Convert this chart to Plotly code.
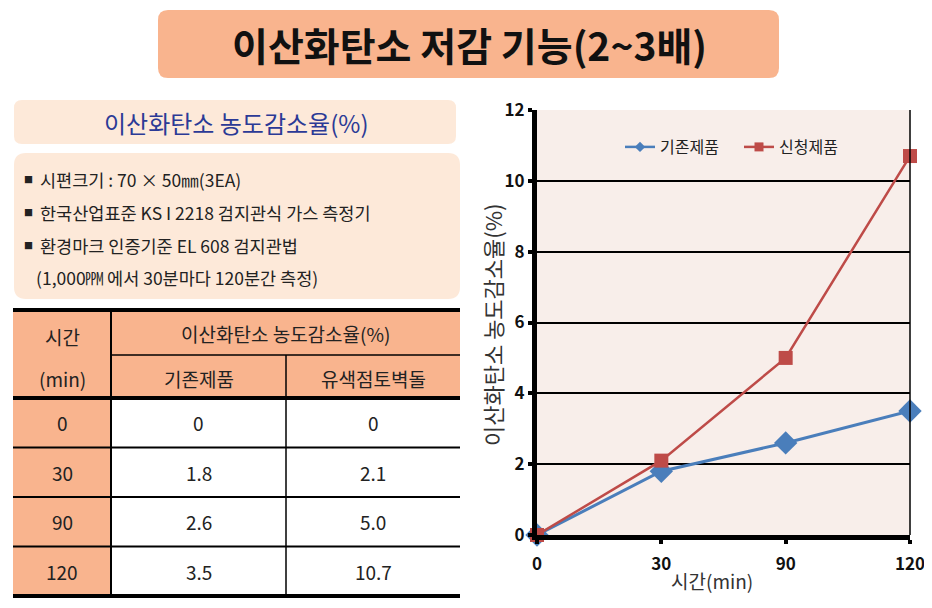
import plotly.graph_objects as go

# ---------------- data ----------------
time_labels = ["0", "30", "90", "120"]
existing_vals = [0, 1.8, 2.6, 3.5]
new_vals = [0, 2.1, 5.0, 10.7]
series_names = ["기존제품", "신청제품"]
table_cols = ["기존제품", "유색점토벽돌"]
y_ticks = [0, 2, 4, 6, 8, 10, 12]

title_text = "이산화탄소 저감 기능(2~3배)"
subtitle_text = "이산화탄소 농도감소율(%)"
bullet_lines = [
    "시편크기 : 70 × 50㎜(3EA)",
    "한국산업표준 KS I 2218 검지관식 가스 측정기",
    "환경마크 인증기준 EL 608 검지관법",
    "(1,000㏙ 에서 30분마다 120분간 측정)",
]
bullet_flags = [True, True, True, False]

# page offset (browser body margin)
OFF = 8
W, H = 932 - OFF, 608 - OFF
FONT = "Noto Sans CJK KR"


def px(x):
    return (x - OFF) / W


def py(y):
    return 1 - (y - OFF) / H


def rrect(x0, y0, x1, y1, r, color):
    rx, ry = r / W, r / H
    X0, X1, Y0, Y1 = px(x0), px(x1), py(y0), py(y1)
    path = (f"M {X0+rx},{Y0} L {X1-rx},{Y0} Q {X1},{Y0} {X1},{Y0-ry} "
            f"L {X1},{Y1+ry} Q {X1},{Y1} {X1-rx},{Y1} L {X0+rx},{Y1} "
            f"Q {X0},{Y1} {X0},{Y1+ry} L {X0},{Y0-ry} Q {X0},{Y0} {X0+rx},{Y0} Z")
    return dict(type="path", xref="paper", yref="paper", path=path,
                fillcolor=color, line=dict(width=0), layer="below")


def rect(x0, y0, x1, y1, color):
    return dict(type="rect", xref="paper", yref="paper", x0=px(x0), x1=px(x1),
                y0=py(y1), y1=py(y0), fillcolor=color, line=dict(width=0), layer="below")


def hline(x0, x1, y, w):
    return dict(type="line", xref="paper", yref="paper", x0=px(x0), x1=px(x1),
                y0=py(y), y1=py(y), line=dict(color="black", width=w))


def vline(x, y0, y1, w):
    return dict(type="line", xref="paper", yref="paper", x0=px(x), x1=px(x),
                y0=py(y0), y1=py(y1), line=dict(color="black", width=w))


def text(x, y, s, size, color="#222", xanchor="center", bold=False):
    return dict(xref="paper", yref="paper", x=px(x), y=py(y), text=(f"<b>{s}</b>" if bold else s),
                showarrow=False, xanchor=xanchor, yanchor="middle",
                font=dict(family=FONT, size=size, color=color))


fig = go.Figure()
colors = ["#4A7EBB", "#BE4B48"]
symbols = ["diamond", "square"]
for vals, name, col, sym, msize, lw in [
        (existing_vals, series_names[0], colors[0], symbols[0], 18, 3),
        (new_vals, series_names[1], colors[1], symbols[1], 14, 2.5)]:
    fig.add_trace(go.Scatter(
        x=time_labels, y=vals, name=name, mode="lines+markers",
        line=dict(color=col, width=lw),
        marker=dict(symbol=sym, size=msize, color=col),
        cliponaxis=False, showlegend=False))
# legend entries with small markers
for name, col, sym in zip(series_names, colors, symbols):
    fig.add_trace(go.Scatter(
        x=[None], y=[None], name=name, mode="lines+markers",
        line=dict(color=col, width=2.5),
        marker=dict(symbol=sym, size=8 if sym == "diamond" else 9, color=col),
        showlegend=True))

shapes = []
annotations = []

# title
shapes.append(rrect(158, 10, 779, 78, 10, "#F9B48E"))
annotations.append(text(469, 44, title_text, 39, "#111", bold=True))

# subtitle box
shapes.append(rrect(14, 100, 456, 144, 8, "#FDE9D9"))
annotations.append(text(236, 123, subtitle_text, 24, "#2B3A96"))

# bullet box
shapes.append(rrect(14, 153, 460, 299, 12, "#FDE9D9"))
for i, (line, flag) in enumerate(zip(bullet_lines, bullet_flags)):
    yc = 180 + i * 32.5
    if flag:
        annotations.append(text(28, yc, "■", 9, "#222"))
        annotations.append(text(38, yc, line, 17.5, "#222", xanchor="left"))
    else:
        annotations.append(text(34, yc, line, 17.5, "#222", xanchor="left"))

# table
tx0, tx1 = 13, 460
c1, c2 = 111, 286
ytop, ymid, yhead, ybot = 310, 355, 398, 596
row_h = (ybot - yhead) / len(time_labels)
salmon = "#F9B48E"
shapes.append(rect(tx0, ytop, tx1, yhead, salmon))
shapes.append(rect(tx0, yhead, c1, ybot, salmon))
shapes.append(hline(c1, tx1, ymid, 1.5))
for i in range(1, len(time_labels)):
    shapes.append(hline(tx0, tx1, yhead + i * row_h, 2))
shapes.append(vline(c1, ytop, ybot, 2))
shapes.append(vline(c2, ymid, ybot, 1.5))
shapes.append(hline(tx0, tx1, ytop, 4))
shapes.append(hline(tx0, tx1, yhead, 4))
shapes.append(hline(tx0, tx1, ybot, 4))

TS = 19
annotations.append(text(62, 336, "시간", TS))
annotations.append(text(62, 378, "(min)", TS))
annotations.append(text((c1 + tx1) / 2, 333, subtitle_text, TS))
annotations.append(text((c1 + c2) / 2, 378, table_cols[0], TS))
annotations.append(text((c2 + tx1) / 2, 378, table_cols[1], TS))


def fmt(v):
    return "0" if v == 0 else f"{v:.1f}"


for i, t in enumerate(time_labels):
    yc = yhead + (i + 0.5) * row_h
    annotations.append(text(62, yc, t, TS))
    annotations.append(text((c1 + c2) / 2, yc, fmt(existing_vals[i]), TS))
    annotations.append(text((c2 + tx1) / 2, yc, fmt(new_vals[i]), TS))

# chart right border
shapes.append(dict(type="line", xref="paper", yref="paper", x0=px(910), x1=px(910),
                   y0=py(535), y1=py(110), line=dict(color="black", width=1.5)))

# axis titles
annotations.append(dict(xref="paper", yref="paper", x=px(492), y=py(325),
                        text="이산화탄소 농도감소율(%)", textangle=-90, showarrow=False,
                        font=dict(family=FONT, size=22, color="#333")))
annotations.append(text(712, 580, "시간(min)", 19, "#333"))

fig.update_layout(
    width=W, height=H,
    margin=dict(l=0, r=0, t=0, b=0),
    paper_bgcolor="white",
    plot_bgcolor="#F8EEEA",
    showlegend=True,
    legend=dict(orientation="h", x=px(620), y=py(147), xanchor="left", yanchor="middle",
                bgcolor="rgba(0,0,0,0)", font=dict(family=FONT, size=16, color="#222"),
                itemwidth=30, entrywidth=74, entrywidthmode="pixels"),
    xaxis=dict(domain=[px(537), px(910)], type="category", range=[0, 3],
               showgrid=False, showline=True, linecolor="black", linewidth=5,
               ticks="outside", ticklen=4, tickwidth=4, tickcolor="black",
               ticklabelstandoff=6,
               tickfont=dict(family=FONT, size=17, color="#111", weight="bold"),
               automargin=False, zeroline=False, fixedrange=True),
    yaxis=dict(domain=[py(535), py(110)], range=[0, 12], tickvals=y_ticks,
               showgrid=True, gridcolor="black", gridwidth=2,
               showline=True, linecolor="black", linewidth=5,
               ticks="outside", ticklen=4, tickwidth=4, tickcolor="black",
               tickfont=dict(family=FONT, size=17, color="#111", weight="bold"),
               automargin=False, zeroline=False, fixedrange=True),
    shapes=shapes,
    annotations=annotations,
)

fig.write_html("out.html")
